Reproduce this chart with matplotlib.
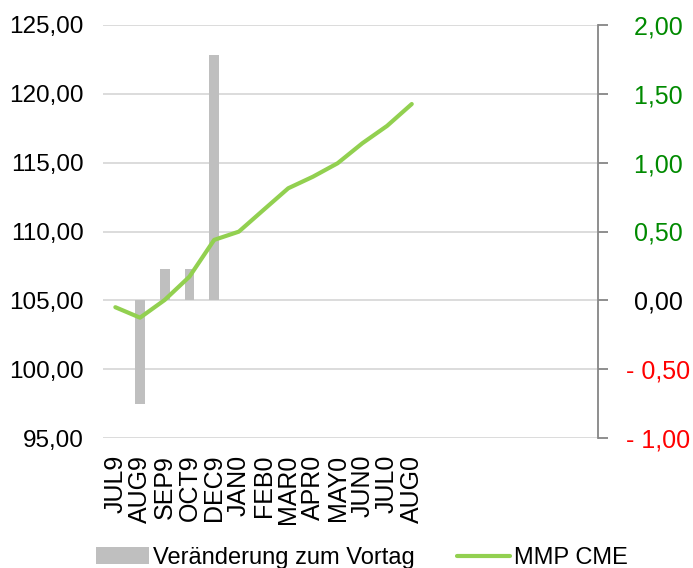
import matplotlib
matplotlib.use("Agg")
import matplotlib.pyplot as plt
from matplotlib.ticker import FuncFormatter
from matplotlib.patches import Patch
from matplotlib.lines import Line2D
import numpy as np

plt.rcParams['font.family'] = ['Liberation Sans', 'DejaVu Sans']

# data
months = ['JUL9', 'AUG9', 'SEP9', 'OCT9', 'DEC9', 'JAN0', 'FEB0',
          'MAR0', 'APR0', 'MAY0', 'JUN0', 'JUL0', 'AUG0']
mmp_cme = [104.50, 103.74, 105.03, 106.72, 109.39, 109.99, 111.57,
           113.14, 113.98, 114.96, 116.41, 117.67, 119.26]
change = [0.00, -0.75, 0.23, 0.23, 1.78, None, None,
          None, None, None, None, None, None]
n_slots = 20  # category axis keeps empty slots to the right

left_ticks = [95, 100, 105, 110, 115, 120, 125]
right_ticks = [-1.0, -0.5, 0.0, 0.5, 1.0, 1.5, 2.0]

fig = plt.figure(figsize=(6.93, 5.68), dpi=100)
ax = fig.add_axes([103 / 693, 1 - 438 / 568, (597 - 103) / 693, (438 - 25) / 568])
ax2 = ax.twinx()
ax.set_zorder(2)
ax2.set_zorder(1)
ax.patch.set_visible(False)

x = np.arange(len(months))

# bars (right scale)
bx = [i for i, v in enumerate(change) if v is not None]
bv = [v for v in change if v is not None]
ax2.bar(bx, bv, width=0.4, color='#BFBFBF', zorder=2)

# line (left scale)
ax.plot(x, mmp_cme, color='#92D050', lw=3, solid_capstyle='round',
        solid_joinstyle='round')

ax.set_xlim(-0.5, n_slots - 0.5)
ax.set_ylim(95, 125)
ax2.set_ylim(-1, 2)

ax.set_yticks(left_ticks)
ax.yaxis.set_major_formatter(FuncFormatter(lambda v, p: f"{v:.2f}".replace('.', ',')))
ax.tick_params(axis='y', length=0, pad=14, labelsize=17.5)

def right_fmt(v, p):
    s = f"{abs(v):.2f}".replace('.', ',')
    return "- " + s if v < 0 else s + " "

ax2.set_yticks(right_ticks)
ax2.yaxis.set_major_formatter(FuncFormatter(right_fmt))
ax2.tick_params(axis='y', length=7, width=1.3, color='#868686', pad=59, labelsize=18)
for lab in ax2.get_yticklabels():
    lab.set_horizontalalignment('right')

ax2.grid(axis='y', color='#D9D9D9', lw=1.3)
ax2.set_axisbelow(True)

ax.set_xticks(x)
ax.set_xticklabels(months, rotation=90, fontsize=18)
ax.tick_params(axis='x', length=0, pad=12)

for s in ax.spines.values():
    s.set_visible(False)
for name, s in ax2.spines.items():
    s.set_visible(name == 'right')
ax2.spines['right'].set_color('#868686')
ax2.spines['right'].set_linewidth(1.3)
ax2.spines['right'].set_position(('outward', 1))

handles = [Patch(facecolor='#BFBFBF', edgecolor='none'),
           Line2D([0], [0], color='#92D050', lw=3, solid_capstyle='round')]
fig.legend(handles, ['Veränderung zum Vortag', 'MMP CME'], loc='center',
           bbox_to_anchor=(362 / 693, 10 / 568), ncol=2, frameon=False,
           fontsize=17, handlelength=2.25, handletextpad=0.15, columnspacing=1.8)

# colour the right-hand labels by sign (after the ticks exist)
fig.canvas.draw()
for tick, v in zip(ax2.yaxis.get_major_ticks(), right_ticks):
    tick.label2.set_horizontalalignment('right')
    if v > 0:
        tick.label2.set_color('#008A00')
    elif v < 0:
        tick.label2.set_color('#FF0000')
    else:
        tick.label2.set_color('black')

fig.savefig('out.png', dpi=100)
